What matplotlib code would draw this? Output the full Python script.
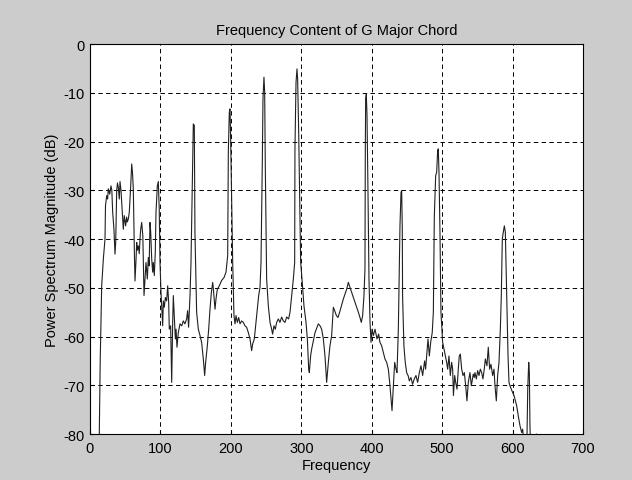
import matplotlib
matplotlib.use("Agg")
import matplotlib.pyplot as plt

# spectrum (Hz, dB); values below -80 are clipped by the axes
freq = [0, 0.8, 12.5, 13.2, 14.5, 16.6, 19, 21.3, 22, 23.7, 25, 26, 28, 29.8, 31, 32.2, 34,
        35.5, 36.5, 37.9, 39, 40.2, 41.6, 42.6, 44, 45.9, 47.3, 48.7, 50.6, 52, 53, 54.4,
        55.8, 57.7, 59.2, 60.3, 61.5, 63, 63.9, 65.3, 66.3, 67.2, 68.6, 70, 71, 72, 73.4,
        75, 76.7, 78.1, 79.5, 81.4, 82.8, 84, 85.2, 86.2, 87.6, 89, 89.9, 91.3, 92.7, 93.7,
        95.6, 97, 98.3, 99.4, 100.8, 102.2, 103.2, 104.1, 105.5, 107, 108.8, 110.3, 111.7,
        112.6, 114.5, 116, 117.4, 118.3, 119.7, 121.2, 122.2, 123.5, 125.4, 127.8, 130.2,
        132.5, 134.8, 137.2, 138.6, 140, 142, 143.4, 145.8, 146.7, 148.1, 149, 151.4, 153.8,
        156.2, 158.5, 160.9, 162.8, 164.2, 166.6, 168.5, 170.4, 172.3, 174.2, 175.2, 177.5,
        178.9, 180.8, 183.6, 186.9, 190.3, 193.1, 195.5, 196.4, 197.8, 198.8, 199.7, 201.1,
        202.6, 204.4, 205.9, 207.3, 209.2, 211.1, 213, 215.3, 217.7, 220, 222.4, 224.8,
        227.2, 229.5, 231, 233.3, 235.2, 237.6, 239.5, 241.4, 242.8, 244.7, 245.6, 247, 248,
        248.9, 250.8, 253.2, 255.6, 257.9, 259.3, 261.2, 263.1, 265, 267.4, 269.7, 272.1,
        274.5, 276.9, 279.2, 282, 284, 286.3, 288.7, 290.6, 291, 292.5, 293.9, 294.8, 296.3,
        297.7, 299.1, 301, 303.8, 306.7, 308.6, 310.5, 311.4, 313.3, 314.7, 319.5, 324.2,
        326.6, 328.9, 331.3, 333.6, 336, 338.4, 340.7, 343.1, 345.5, 347.4, 349.8, 352.1,
        354.5, 357, 359.7, 362, 364.4, 366.8, 369.1, 371.5, 373.9, 376.2, 378.6, 381, 383.3,
        385.2, 387.1, 389, 390.4, 390.9, 391.4, 392.3, 393.3, 394.7, 396.1, 397.6, 399,
        400.4, 402.3, 404.7, 407.5, 409.8, 411.7, 414.1, 416.5, 418.8, 421.2, 423.6, 425.9,
        428.8, 430.7, 432.6, 434.5, 435.9, 437.8, 440.1, 441.6, 442.5, 443.4, 443.8, 445.7,
        447.6, 449.6, 451.9, 453.3, 455.7, 458, 460.4, 462.8, 465.2, 467.6, 469.9, 472.3,
        475.1, 476.5, 479.9, 481.8, 483.7, 485.9, 487.5, 488.9, 490.8, 492.2, 493.6, 494.5,
        495.5, 496.9, 498.3, 500.7, 502.6, 504.5, 506.4, 507.8, 509.7, 511.6, 513.5, 514.9,
        516, 517.8, 519.2, 521.1, 522.9, 524.3, 525.8, 527.7, 529.6, 531.5, 533.4, 535.2,
        537.1, 539.5, 541.4, 544.2, 545.6, 546.6, 548.5, 550.4, 552.3, 554.2, 556.1, 557.9,
        559.8, 561.3, 563.6, 565.5, 567.4, 569.3, 571.7, 573.6, 575, 576.9, 578.8, 580.7,
        582.6, 584, 585.4, 586.8, 588.3, 589.7, 590.6, 592.1, 593.5, 594.9, 596.3, 598.2,
        600.1, 602, 605.8, 608.1, 610.5, 612.9, 614.3, 616.2, 619, 620.5, 621.5, 622.9,
        623.8, 624.6, 625.5, 633, 634, 635, 650]
power_db = [-54, -85, -85, -80, -65, -49.6, -44, -40, -33.2, -31.1, -31.8, -29.7, -30.8, -29.1,
            -30, -34.5, -38, -43.1, -40.7, -30.1, -28.5, -29.4, -31.8, -28.2, -30, -34.5, -38,
            -35.2, -37.3, -35.5, -36.5, -35.9, -34.5, -29.4, -24.6, -26.3, -29.7, -42.7, -48.6,
            -44.4, -40.7, -42.3, -41.4, -43, -40, -38, -36.6, -39.3, -51.6, -48.2, -44.8, -48.2,
            -43.8, -45.5, -36.6, -38.6, -44.1, -46.8, -44.8, -47.5, -42.7, -34.5, -29.1, -28.2,
            -33.8, -44.8, -51, -55, -57.8, -52.7, -54, -52, -52.7, -49.6, -53, -58.5, -57.8,
            -69.4, -57.1, -51.6, -56, -60.5, -58.5, -62.2, -59.2, -57.4, -57.8, -56.8, -57.4,
            -56.4, -54.7, -58.1, -51.6, -44.8, -23.6, -16.4, -16.7, -38.6, -55, -58.5, -59.8,
            -61.2, -64.6, -68, -65.3, -61.9, -58.5, -54.4, -51, -48.9, -50.3, -54.4, -52.3,
            -50.3, -49.6, -48.5, -47.9, -46.8, -43.4, -22.2, -14, -13.3, -19.5, -31.1, -44.8,
            -55.7, -57.4, -55.7, -57.1, -56.1, -57.4, -56.8, -57.1, -57.8, -58.1, -59.2, -60.5,
            -62.9, -61.5, -60.5, -57.8, -54.4, -51.6, -49.9, -44.8, -23.6, -11.3, -6.8, -9.9,
            -25, -48.2, -53.7, -57.1, -58.5, -59.5, -57.8, -58.5, -57.1, -56.4, -57.1, -56,
            -56.8, -57.1, -56, -56.4, -55, -51.6, -48.2, -44.8, -21.5, -7.9, -5.1, -7.2, -18.1,
            -31.1, -44.8, -48.2, -53.7, -57.1, -60.5, -66.7, -67.4, -63.9, -62.6, -59.2, -57.4,
            -57.8, -58.5, -60.5, -63.9, -69.4, -65.3, -61.9, -59.8, -54, -54.7, -55.7, -56.1,
            -55, -53.7, -52.3, -51.3, -50.3, -48.9, -49.9, -50.9, -52, -53, -54, -55, -56.1,
            -57.1, -55.7, -51.6, -46.2, -21.5, -11.3, -10.3, -14.7, -30.4, -48.2, -57.1, -61.2,
            -58.5, -59.8, -58.5, -60.5, -59.5, -61.2, -61.9, -63.3, -64.6, -65.3, -66.7, -70.1,
            -75.2, -70.1, -65.3, -66.7, -67.4, -58.5, -37.3, -30.4, -30.1, -37.9, -51.6, -61.9,
            -65.3, -67.4, -68.1, -69.1, -68.4, -69.8, -68.7, -68, -69.4, -67.4, -66, -68, -65,
            -66.7, -60.5, -64, -61.2, -59.2, -55, -35.2, -27, -26.3, -21.9, -21.5, -26.3,
            -38.6, -55, -61.2, -62.6, -64, -65.3, -66.7, -64, -68, -65.3, -66.7, -72.1, -68,
            -69.4, -70.8, -66.7, -64, -63.6, -66.7, -68, -67.4, -70.1, -73.2, -69.4, -67.4,
            -70.1, -67.7, -68.4, -67.4, -68.7, -67, -68, -66.7, -67.4, -68.7, -66.7, -64.6,
            -66, -62.2, -66.7, -65.7, -68, -66.7, -70.1, -73.2, -68, -65.3, -58.5, -51.6, -40,
            -38.6, -37.3, -38.6, -44.8, -55, -63.9, -69.4, -70.1, -70.8, -71.5, -72.1, -74.2,
            -76.3, -78.3, -79.7, -79, -82, -84, -80, -70.8, -65.3, -67.4, -77.6, -84, -84, -80,
            -84, -86]

x_ticks = [0, 100, 200, 300, 400, 500, 600, 700]
y_ticks = [0, -10, -20, -30, -40, -50, -60, -70, -80]

plt.rcParams['font.family'] = ['Liberation Sans', 'DejaVu Sans']
plt.rcParams['font.size'] = 10
plt.rcParams['axes.unicode_minus'] = False
plt.rcParams['lines.scale_dashes'] = False

fig = plt.figure(figsize=(6.32, 4.81), dpi=100, facecolor='#cccccc')
ax = fig.add_axes([0.1424, 0.0956, 0.7801, 0.8108])
ax.set_facecolor('white')

ax.plot(freq, power_db, color='#202020', linewidth=0.8)

ax.set_xlim(0, 700)
ax.set_ylim(-80, 0)
ax.set_xticks(x_ticks)
ax.set_yticks(y_ticks)
ax.grid(True, color='black', linestyle=(0, (3.2, 2.4)), linewidth=0.7)
ax.tick_params(direction='in', length=3, colors='black', labelsize=10.5)
ax.tick_params(axis='x', pad=5)
ax.tick_params(axis='y', pad=4)
for s in ax.spines.values():
    s.set_color('black')
    s.set_linewidth(0.8)

ax.set_title('Frequency Content of G Major Chord', fontsize=10.5, pad=7)
ax.set_xlabel('Frequency', fontsize=10.5, labelpad=2)
ax.set_ylabel('Power Spectrum Magnitude (dB)', fontsize=10.5, labelpad=3)

fig.savefig('out.png', dpi=100, facecolor=fig.get_facecolor())
